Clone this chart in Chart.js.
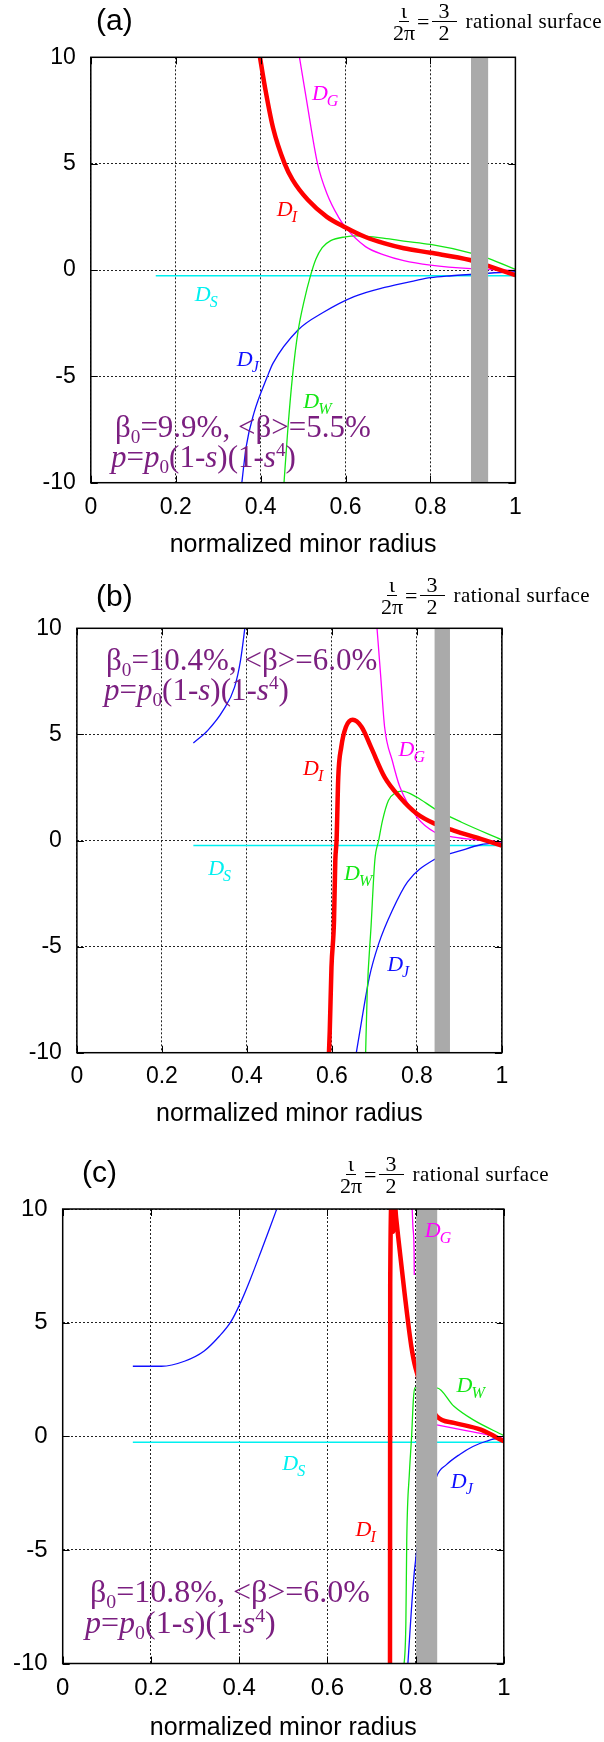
<!DOCTYPE html>
<html>
<head>
<meta charset="utf-8">
<script src="https://cdn.jsdelivr.net/npm/chart.js@4.4.0/dist/chart.umd.min.js"></script>
<style>
  body { margin: 0; background: #fff; }
  #page { position: relative; width: 604px; height: 1742px; overflow: hidden; }
  canvas { position: absolute; left: 0; }
  .lab { position: absolute; font-family: "Liberation Sans", Arial, sans-serif; font-size: 30px; line-height: 30px; color: #000; }
  .rat { position: absolute; display: flex; align-items: center; font-family: "Liberation Serif", "Times New Roman", serif; font-size: 22px; color: #000; white-space: nowrap; }
  .frac { display: inline-flex; flex-direction: column; align-items: center; line-height: 21px; }
  .frac span:first-child { border-bottom: 1px solid #000; }
  .eq { margin: 0 2px; }
  .rs { margin-left: 9px; font-size: 21px; letter-spacing: 0.4px; }
  .beta { position: absolute; font-family: "Liberation Serif", "Times New Roman", serif; font-size: 31px; line-height: 31px; color: #7b1f80; white-space: nowrap; }
  .beta sub { font-size: 0.62em; vertical-align: -0.3em; line-height: 0; }
  .beta sup { font-size: 0.62em; vertical-align: 0.55em; line-height: 0; }
</style>
</head>
<body>
<div id="page">
  <canvas id="chartA" width="604" height="570" style="top:0px"></canvas>
  <canvas id="chartB" width="604" height="575" style="top:565px"></canvas>
  <canvas id="chartC" width="604" height="602" style="top:1140px"></canvas>

  <div class="lab" style="left:96px;top:5px">(a)</div>
  <div class="lab" style="left:96px;top:581px">(b)</div>
  <div class="lab" style="left:82px;top:1157px">(c)</div>

  <div class="rat" style="left:393px;top:0px"><span class="frac"><span style="padding:0 2px">ι</span><span>2π</span></span><span class="eq">=</span><span class="frac"><span style="padding:0 7px">3</span><span>2</span></span><span class="rs">rational surface</span></div>
  <div class="rat" style="left:381px;top:574px"><span class="frac"><span style="padding:0 2px">ι</span><span>2π</span></span><span class="eq">=</span><span class="frac"><span style="padding:0 7px">3</span><span>2</span></span><span class="rs">rational surface</span></div>
  <div class="rat" style="left:340px;top:1153px"><span class="frac"><span style="padding:0 2px">ι</span><span>2π</span></span><span class="eq">=</span><span class="frac"><span style="padding:0 7px">3</span><span>2</span></span><span class="rs">rational surface</span></div>

  <div class="beta" style="left:115px;top:411px">β<sub>0</sub>=9.9%, &lt;β&gt;=5.5%</div>
  <div class="beta" style="left:111px;top:441px"><i>p</i>=<i>p</i><sub>0</sub>(1-<i>s</i>)(1-<i>s</i><sup>4</sup>)</div>
  <div class="beta" style="left:106px;top:644px">β<sub>0</sub>=10.4%, &lt;β&gt;=6.0%</div>
  <div class="beta" style="left:104px;top:674px"><i>p</i>=<i>p</i><sub>0</sub>(1-<i>s</i>)(1-<i>s</i><sup>4</sup>)</div>
  <div class="beta" style="left:90px;top:1575px;font-size:32px;line-height:32px">β<sub>0</sub>=10.8%, &lt;β&gt;=6.0%</div>
  <div class="beta" style="left:85px;top:1606px;font-size:32px;line-height:32px"><i>p</i>=<i>p</i><sub>0</sub>(1-<i>s</i>)(1-<i>s</i><sup>4</sup>)</div>
</div>

<script>
// axis ticks shared by all three panels
const ticksX = [0, 0.2, 0.4, 0.6, 0.8, 1];
const ticksY = [-10, -5, 0, 5, 10];

// ---- panel (a): beta0 = 9.9%
const aRedX = [0.396, 0.411, 0.429, 0.4565, 0.475, 0.511, 0.556, 0.6, 0.647, 0.692, 0.737, 0.8, 0.893, 0.936, 1.0];
const aRedY = [10.3, 8.5, 6.7, 5.0, 4.25, 3.3, 2.5, 2.0, 1.55, 1.25, 1.02, 0.81, 0.47, 0.19, -0.24];
const aMagX = [0.489, 0.508, 0.534, 0.556, 0.583, 0.6, 0.647, 0.692, 0.737, 0.8, 0.895, 1.0];
const aMagY = [10.3, 8.0, 5.0, 3.6, 2.5, 2.0, 1.1, 0.7, 0.44, 0.23, 0.06, -0.02];
const aGreenX = [0.454, 0.464, 0.475, 0.488, 0.503, 0.517, 0.53, 0.545, 0.565, 0.6, 0.625, 0.692, 0.737, 0.8, 0.893, 0.936, 1.0];
const aGreenY = [-10.3, -7.5, -5.0, -2.9, -1.4, -0.3, 0.5, 1.05, 1.38, 1.56, 1.6, 1.49, 1.36, 1.2, 0.81, 0.55, 0.03];
const aBlueX = [0.354, 0.366, 0.384, 0.416, 0.429, 0.488, 0.547, 0.62, 0.692, 0.764, 0.8, 0.85, 0.9, 0.95, 1.0];
const aBlueY = [-10.3, -8.3, -6.74, -5.0, -4.39, -2.82, -2.0, -1.25, -0.82, -0.5, -0.36, -0.27, -0.2, -0.13, -0.08];
const aCyanX = [0.153, 1.0];
const aCyanY = [-0.27, -0.27];
const aBand = [0.8954, 0.9358];

// ---- panel (b): beta0 = 10.4%
const bRedX = [0.5925, 0.595, 0.599, 0.605, 0.608, 0.611, 0.615, 0.622, 0.633, 0.649, 0.67, 0.692, 0.724, 0.76, 0.8, 0.842, 0.887, 0.95, 1.0];
const bRedY = [-10.3, -8.96, -5.97, -3.77, -0.94, 0, 2.99, 4.4, 5.35, 5.69, 5.35, 4.4, 2.99, 2.04, 1.26, 0.79, 0.47, 0.08, -0.24];
const bMagX = [0.705, 0.715, 0.724, 0.742, 0.76, 0.8, 0.842, 0.887, 0.95, 1.0];
const bMagY = [10.3, 7.7, 5.35, 3.77, 2.52, 1.1, 0.39, 0.16, 0.02, -0.08];
const bGreenX = [0.679, 0.683, 0.692, 0.701, 0.71, 0.719, 0.733, 0.75, 0.765, 0.8, 0.842, 0.905, 1.0];
const bGreenY = [-10.3, -7.23, -4.09, -0.94, 0, 0.94, 1.89, 2.25, 2.33, 2.04, 1.49, 0.86, 0.03];
const bBlueX = [0.274, 0.308, 0.344, 0.371, 0.385, 0.397, 0.5, 0.655, 0.67, 0.688, 0.71, 0.742, 0.778, 0.837, 0.905, 0.95, 1.0];
const bBlueY = [4.59, 5.19, 6.13, 7.23, 8.49, 10.3, null, -10.3, -8.49, -6.45, -4.87, -3.3, -1.95, -0.94, -0.47, -0.2, -0.08];
const bCyanX = [0.274, 1.0];
const bCyanY = [-0.24, -0.24];
const bBand = [0.8416, 0.8778];

// ---- panel (c): beta0 = 10.8%
const cRedX = [0.742, 0.7425, 0.746, 0.749, 0.752, 0.756, 0.761, 0.775, 0.79, 0.8, 0.848, 0.887, 0.948, 1.0];
const cRedY = [-10.5, 6.7, 10.4, 9.0, 10.4, 9.6, 8.7, 6.3, 4.0, 3.0, 0.88, 0.59, 0.29, -0.22];
const cMagX = [0.7915, 0.794, 0.7965, 0.797, 0.82, 0.848, 0.9, 0.95, 1.0];
const cMagY = [10.5, 9.2, 8.3, 7.1, null, 0.5, 0.3, 0.12, -0.1];
const cGreenX = [0.773, 0.778, 0.78, 0.786, 0.791, 0.795, 0.798, 0.848, 0.887, 0.93, 1.0];
const cGreenY = [-10.3, -8.2, -4.55, -1.61, 0, 1.61, 2.13, 2.13, 1.32, 0.73, 0.03];
const cBlueX = [0.159, 0.224, 0.276, 0.32, 0.355, 0.381, 0.403, 0.425, 0.451, 0.468, 0.491, 0.6, 0.7815, 0.798, 0.848, 0.87, 0.9, 0.93, 0.96, 0.985, 1.0];
const cBlueY = [3.08, 3.08, 3.3, 3.74, 4.4, 5.03, 5.87, 6.89, 8.21, 9.09, 10.3, null, -10.3, -5.8, -1.76, -1.25, -0.8, -0.45, -0.22, -0.1, -0.12];
const cCyanX = [0.159, 1.0];
const cCyanY = [-0.26, -0.26];
const cBand = [0.8013, 0.849];

const RED = '#ff0000', MAG = '#ff00ff', GREEN = '#14e614', BLUE = '#1010ff', CYAN = '#00f0f0';
const SANS = '"Liberation Sans", Arial, sans-serif';
const SERIF = '"Liberation Serif", "Times New Roman", serif';

function series(xs, ys) {
  return xs.map((x, i) => ({ x: x, y: ys[i] }));
}

function curve(xs, ys, color, width) {
  return {
    data: series(xs, ys),
    borderColor: color,
    borderWidth: width,
    pointRadius: 0,
    fill: false,
    spanGaps: false,
    clip: 0,
    cubicInterpolationMode: 'monotone'
  };
}

// band of the rational surface, curve names, frame with inward ticks
const overlay = {
  id: 'overlay',
  afterDatasetsDraw(chart, args, opts) {
    const ctx = chart.ctx, a = chart.chartArea;
    const xs = chart.scales.x, ys = chart.scales.y;
    ctx.save();
    ctx.fillStyle = '#aaaaaa';
    const b0 = xs.getPixelForValue(opts.band[0]), b1 = xs.getPixelForValue(opts.band[1]);
    ctx.fillRect(b0, a.top, b1 - b0, a.bottom - a.top);

    opts.labels.forEach(l => {
      const px = xs.getPixelForValue(l.x), py = ys.getPixelForValue(l.y);
      ctx.fillStyle = l.c;
      ctx.font = 'italic 22px ' + SERIF;
      const w1 = ctx.measureText('D').width;
      ctx.font = 'italic 16px ' + SERIF;
      const w2 = ctx.measureText(l.s).width;
      const left = px - (w1 + w2) / 2;
      ctx.textBaseline = 'alphabetic';
      ctx.textAlign = 'left';
      ctx.font = 'italic 22px ' + SERIF;
      ctx.fillText('D', left, py + 4);
      ctx.font = 'italic 16px ' + SERIF;
      ctx.fillText(l.s, left + w1 - 1, py + 10);
    });

    ctx.strokeStyle = '#000';
    ctx.setLineDash([]);
    ctx.lineWidth = 1;
    ctx.beginPath();
    xs.ticks.forEach(t => {
      const p = Math.round(xs.getPixelForValue(t.value)) + 0.5;
      ctx.moveTo(p, a.top); ctx.lineTo(p, a.top + 7);
      ctx.moveTo(p, a.bottom); ctx.lineTo(p, a.bottom - 7);
    });
    ys.ticks.forEach(t => {
      const p = Math.round(ys.getPixelForValue(t.value)) + 0.5;
      ctx.moveTo(a.left, p); ctx.lineTo(a.left + 7, p);
      ctx.moveTo(a.right, p); ctx.lineTo(a.right - 7, p);
    });
    ctx.stroke();
    ctx.lineWidth = 1.5;
    ctx.strokeRect(a.left, a.top, a.right - a.left, a.bottom - a.top);
    ctx.restore();
  }
};

function makePanel(id, p) {
  const canvas = document.getElementById(id);
  const H = canvas.height;
  new Chart(canvas.getContext('2d'), {
    type: 'line',
    data: {
      datasets: [
        curve(p.red[0], p.red[1], RED, 4.5),
        curve(p.mag[0], p.mag[1], MAG, 1.3),
        curve(p.green[0], p.green[1], GREEN, 1.3),
        curve(p.blue[0], p.blue[1], BLUE, 1.3),
        curve(p.cyan[0], p.cyan[1], CYAN, 1.5)
      ]
    },
    plugins: [overlay],
    options: {
      responsive: false,
      animation: false,
      events: [],
      layout: { padding: { left: 0, top: p.top, right: 604 - p.right, bottom: 0 } },
      plugins: {
        legend: { display: false },
        tooltip: { enabled: false },
        overlay: { band: p.band, labels: p.labels }
      },
      scales: {
        x: {
          type: 'linear', min: 0, max: 1,
          afterFit: s => { s.height = H - p.bottom; },
          afterBuildTicks: s => { s.ticks = ticksX.map(v => ({ value: v })); },
          ticks: {
            color: '#000', font: { family: SANS, size: p.tick }, padding: p.tickPad, maxRotation: 0,
            callback: v => String(v)
          },
          grid: { color: '#222', lineWidth: 1, drawTicks: false },
          border: { display: false, dash: [2, 2] },
          title: {
            display: true, text: 'normalized minor radius', color: '#000',
            font: { family: SANS, size: 25, lineHeight: 1 },
            padding: { top: 0, bottom: p.titlePad }
          }
        },
        y: {
          type: 'linear', min: -10, max: 10,
          afterFit: s => { s.width = p.left; },
          afterBuildTicks: s => { s.ticks = ticksY.map(v => ({ value: v })); },
          ticks: { color: '#000', font: { family: SANS, size: p.tick }, padding: 15, callback: v => String(v) },
          grid: { color: '#222', lineWidth: 1, drawTicks: false },
          border: { display: false, dash: [2, 2] }
        }
      }
    }
  });
}

makePanel('chartA', {
  left: 90.8, top: 57.3, right: 515.4, bottom: 482.7, tick: 23, tickPad: 11.5, titlePad: 12,
  red: [aRedX, aRedY], mag: [aMagX, aMagY], green: [aGreenX, aGreenY], blue: [aBlueX, aBlueY], cyan: [aCyanX, aCyanY],
  band: aBand,
  labels: [
    { s: 'G', x: 0.553, y: 8.2, c: MAG },
    { s: 'I', x: 0.463, y: 2.71, c: RED },
    { s: 'S', x: 0.273, y: -1.29, c: CYAN },
    { s: 'J', x: 0.371, y: -4.34, c: BLUE },
    { s: 'W', x: 0.535, y: -6.3, c: GREEN }
  ]
});

makePanel('chartB', {
  left: 76.9, top: 63.3, right: 501.9, bottom: 487.7, tick: 23, tickPad: 10.5, titlePad: 13,
  red: [bRedX, bRedY], mag: [bMagX, bMagY], green: [bGreenX, bGreenY], blue: [bBlueX, bBlueY], cyan: [bCyanX, bCyanY],
  band: bBand,
  labels: [
    { s: 'I', x: 0.557, y: 3.27, c: RED },
    { s: 'G', x: 0.789, y: 4.17, c: MAG },
    { s: 'S', x: 0.337, y: -1.42, c: CYAN },
    { s: 'W', x: 0.663, y: -1.68, c: GREEN },
    { s: 'J', x: 0.757, y: -5.97, c: BLUE }
  ]
});

makePanel('chartC', {
  left: 62.7, top: 69, right: 503.8, bottom: 523.5, tick: 24, tickPad: 10.4, titlePad: 1.7,
  red: [cRedX, cRedY], mag: [cMagX, cMagY], green: [cGreenX, cGreenY], blue: [cBlueX, cBlueY], cyan: [cCyanX, cCyanY],
  band: cBand,
  labels: [
    { s: 'G', x: 0.852, y: 8.94, c: MAG },
    { s: 'W', x: 0.926, y: 2.13, c: GREEN },
    { s: 'S', x: 0.525, y: -1.32, c: CYAN },
    { s: 'J', x: 0.906, y: -2.08, c: BLUE },
    { s: 'I', x: 0.688, y: -4.2, c: RED }
  ]
});
</script>
</body>
</html>
